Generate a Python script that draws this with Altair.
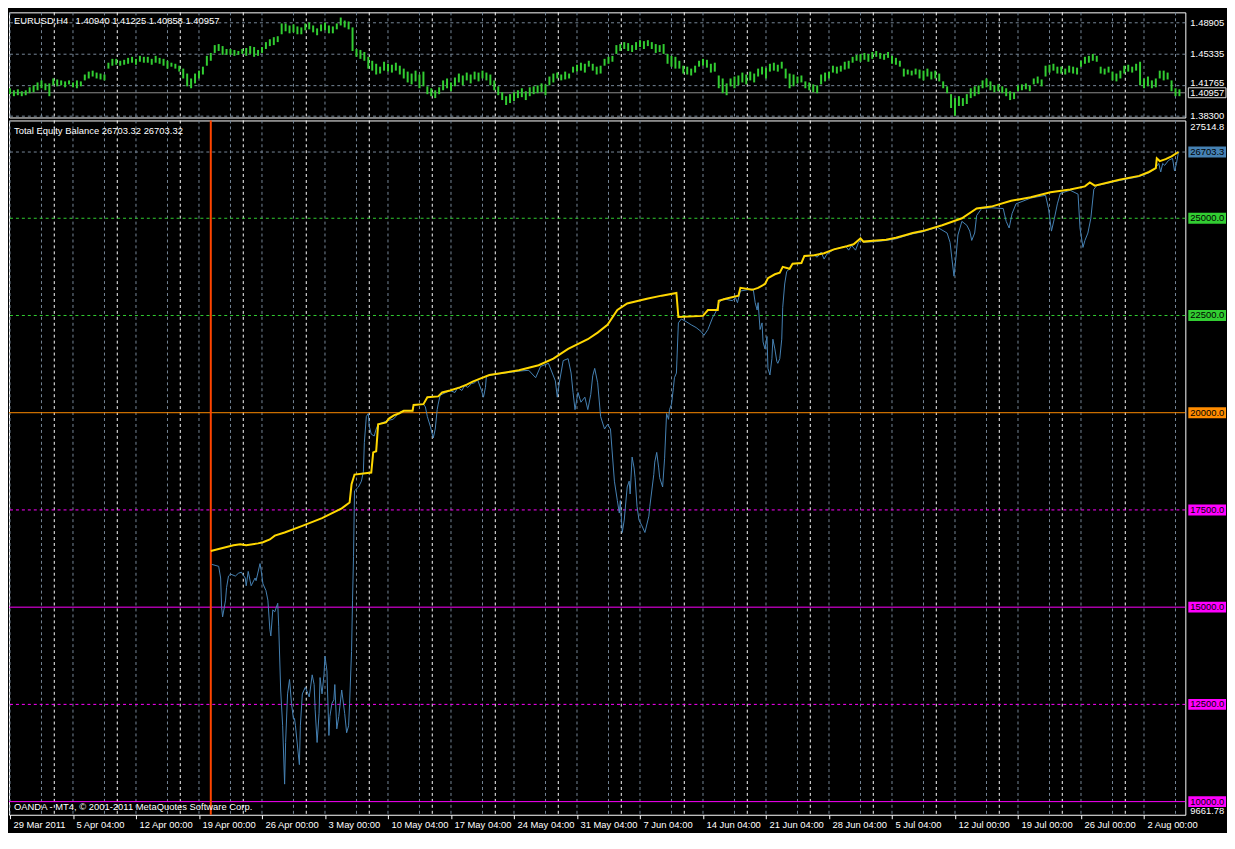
import json
import altair as alt
import pandas as pd

FONT = "Liberation Sans"
W = 1186      # plot width
H1 = 106      # price panel height
H2 = 700      # equity panel height

# ---------------- x axis (H4 bar numbers) ----------------
tick_bars = [0, 32, 64, 96, 128, 160, 192, 224, 256, 288, 320, 352, 384, 416, 448, 480, 512, 544, 576]
tick_labels = ["29 Mar 2011", "5 Apr 04:00", "12 Apr 00:00", "19 Apr 00:00", "26 Apr 00:00",
               "3 May 00:00", "10 May 04:00", "17 May 04:00", "24 May 04:00", "31 May 04:00",
               "7 Jun 04:00", "14 Jun 04:00", "21 Jun 04:00", "28 Jun 04:00", "5 Jul 04:00",
               "12 Jul 00:00", "19 Jul 00:00", "26 Jul 00:00", "2 Aug 00:00"]
grid_bars = list(range(0, 597, 16))
separator_bars = [22.5 + 32 * k for k in range(18)]

# ---------------- EURUSD H4 (every second bar) ----------------
eurusd_high = [
    1.4147, 1.4124, 1.4135, 1.4113, 1.4124, 1.4158, 1.4180, 1.4213, 1.4236, 1.4202,
    1.4202, 1.4258, 1.4247, 1.4236, 1.4225, 1.4236, 1.4213, 1.4236, 1.4225,
    1.4303, 1.4336, 1.4347, 1.4325, 1.4314, 1.4303,
    1.4437, 1.4481, 1.4481, 1.4459, 1.4470, 1.4492, 1.4504, 1.4481, 1.4515, 1.4504,
    1.4504, 1.4481, 1.4515, 1.4492, 1.4481, 1.4459, 1.4437, 1.4425,
    1.4403, 1.4370, 1.4314, 1.4258, 1.4314, 1.4347, 1.4392, 1.4515, 1.4548,
    1.4637, 1.4649, 1.4626, 1.4593, 1.4593, 1.4582, 1.4570, 1.4593, 1.4604,
    1.4626, 1.4615, 1.4582, 1.4615, 1.4671, 1.4704, 1.4727, 1.4738, 1.4883,
    1.4883, 1.4860, 1.4872, 1.4849, 1.4838, 1.4883, 1.4894, 1.4860, 1.4827, 1.4872,
    1.4894, 1.4860, 1.4849, 1.4883, 1.4950, 1.4916, 1.4905, 1.4838,
    1.4593, 1.4582, 1.4559,
    1.4504, 1.4459, 1.4425, 1.4392, 1.4448, 1.4425, 1.4414, 1.4437, 1.4403,
    1.4370, 1.4336, 1.4314, 1.4347, 1.4303, 1.4336,
    1.4169, 1.4147, 1.4124, 1.4158, 1.4236, 1.4258, 1.4213, 1.4269,
    1.4314, 1.4292, 1.4325, 1.4303, 1.4336, 1.4325, 1.4347, 1.4325,
    1.4303, 1.4236, 1.4169, 1.4102, 1.4057, 1.4080, 1.4102,
    1.4124, 1.4147, 1.4113, 1.4158, 1.4169, 1.4180, 1.4202, 1.4191,
    1.4280, 1.4314, 1.4325, 1.4303, 1.4336, 1.4314,
    1.4392, 1.4414, 1.4437, 1.4425, 1.4459, 1.4425, 1.4392, 1.4403,
    1.4481, 1.4504, 1.4515, 1.4637, 1.4649,
    1.4671, 1.4660, 1.4637, 1.4671, 1.4693, 1.4682, 1.4693, 1.4671,
    1.4649, 1.4637, 1.4649, 1.4537, 1.4515, 1.4504, 1.4459,
    1.4403, 1.4392, 1.4370, 1.4403, 1.4459, 1.4481, 1.4470, 1.4425, 1.4437,
    1.4292, 1.4258, 1.4202, 1.4258, 1.4280, 1.4292,
    1.4325, 1.4303, 1.4336, 1.4314, 1.4370, 1.4392, 1.4381,
    1.4425, 1.4437, 1.4414, 1.4448, 1.4370, 1.4314, 1.4303, 1.4280, 1.4292,
    1.4225, 1.4213, 1.4191, 1.4180, 1.4303, 1.4325, 1.4336,
    1.4403, 1.4392, 1.4403, 1.4448, 1.4459,
    1.4504, 1.4526, 1.4537, 1.4548, 1.4537, 1.4559,
    1.4570, 1.4548, 1.4537, 1.4559, 1.4515, 1.4492, 1.4459,
    1.4370, 1.4359, 1.4347, 1.4370, 1.4359, 1.4347, 1.4370,
    1.4336, 1.4347, 1.4314, 1.4225, 1.4169,
    1.4080, 1.4035, 1.4057, 1.4035, 1.4080,
    1.4147, 1.4169, 1.4180, 1.4236, 1.4258, 1.4225,
    1.4180, 1.4191, 1.4169, 1.4147, 1.4113, 1.4102,
    1.4180, 1.4191, 1.4202, 1.4180, 1.4258, 1.4280, 1.4247,
    1.4403, 1.4414, 1.4425, 1.4392, 1.4392, 1.4370, 1.4403, 1.4392, 1.4381,
    1.4459, 1.4504, 1.4515, 1.4537, 1.4515, 1.4392, 1.4370, 1.4392,
    1.4336, 1.4314, 1.4347, 1.4403, 1.4414, 1.4392, 1.4425, 1.4448,
    1.4258, 1.4280, 1.4236, 1.4258, 1.4347, 1.4347, 1.4325,
    1.4236, 1.4147, 1.4135]
eurusd_low = [
    1.4080, 1.4057, 1.4068, 1.4057, 1.4068, 1.4091, 1.4102, 1.4124, 1.4147, 1.4124,
    1.4057, 1.4180, 1.4169, 1.4180, 1.4158, 1.4191, 1.4158, 1.4147, 1.4169,
    1.4236, 1.4258, 1.4280, 1.4258, 1.4247, 1.4236,
    1.4370, 1.4403, 1.4414, 1.4403, 1.4414, 1.4425, 1.4437, 1.4414, 1.4448, 1.4437,
    1.4437, 1.4414, 1.4437, 1.4425, 1.4403, 1.4370, 1.4392, 1.4370,
    1.4336, 1.4258, 1.4169, 1.4147, 1.4202, 1.4258, 1.4303, 1.4403, 1.4459,
    1.4548, 1.4570, 1.4526, 1.4526, 1.4526, 1.4515, 1.4526, 1.4537, 1.4515,
    1.4537, 1.4504, 1.4515, 1.4548, 1.4593, 1.4626, 1.4637, 1.4671, 1.4760,
    1.4794, 1.4771, 1.4782, 1.4760, 1.4760, 1.4805, 1.4816, 1.4782, 1.4749, 1.4794,
    1.4805, 1.4771, 1.4771, 1.4816, 1.4860, 1.4838, 1.4816, 1.4570,
    1.4504, 1.4481, 1.4459,
    1.4370, 1.4347, 1.4303, 1.4314, 1.4347, 1.4336, 1.4325, 1.4347, 1.4303,
    1.4258, 1.4213, 1.4191, 1.4225, 1.4147, 1.4169,
    1.4080, 1.4057, 1.4035, 1.4080, 1.4124, 1.4147, 1.4113, 1.4169,
    1.4213, 1.4180, 1.4236, 1.4202, 1.4247, 1.4225, 1.4258, 1.4236,
    1.4180, 1.4124, 1.4068, 1.4013, 1.3957, 1.3979, 1.4002,
    1.4035, 1.4046, 1.4013, 1.4057, 1.4080, 1.4091, 1.4102, 1.4068,
    1.4180, 1.4213, 1.4258, 1.4236, 1.4247, 1.4258,
    1.4325, 1.4336, 1.4347, 1.4325, 1.4392, 1.4347, 1.4303, 1.4314,
    1.4403, 1.4425, 1.4448, 1.4537, 1.4570,
    1.4593, 1.4570, 1.4559, 1.4582, 1.4615, 1.4593, 1.4626, 1.4593,
    1.4548, 1.4559, 1.4537, 1.4425, 1.4392, 1.4370, 1.4370,
    1.4314, 1.4303, 1.4292, 1.4325, 1.4392, 1.4403, 1.4381, 1.4325, 1.4336,
    1.4147, 1.4091, 1.4068, 1.4169, 1.4147, 1.4180,
    1.4213, 1.4191, 1.4236, 1.4213, 1.4280, 1.4303, 1.4258,
    1.4336, 1.4347, 1.4336, 1.4370, 1.4258, 1.4147, 1.4169, 1.4202, 1.4213,
    1.4147, 1.4124, 1.4102, 1.4091, 1.4191, 1.4225, 1.4258,
    1.4325, 1.4314, 1.4336, 1.4359, 1.4370,
    1.4437, 1.4459, 1.4448, 1.4470, 1.4448, 1.4481,
    1.4504, 1.4481, 1.4470, 1.4492, 1.4425, 1.4414, 1.4392,
    1.4280, 1.4303, 1.4292, 1.4303, 1.4258, 1.4236, 1.4280,
    1.4247, 1.4258, 1.4225, 1.4147, 1.4091,
    1.3923, 1.3834, 1.3946, 1.3946, 1.3968,
    1.4035, 1.4057, 1.4080, 1.4147, 1.4158, 1.4124,
    1.4102, 1.4113, 1.4091, 1.4057, 1.4013, 1.4024,
    1.4113, 1.4124, 1.4135, 1.4113, 1.4191, 1.4202, 1.4169,
    1.4280, 1.4325, 1.4347, 1.4314, 1.4314, 1.4303, 1.4325, 1.4314, 1.4303,
    1.4392, 1.4425, 1.4437, 1.4459, 1.4448, 1.4314, 1.4303, 1.4325,
    1.4236, 1.4225, 1.4258, 1.4314, 1.4336, 1.4325, 1.4347, 1.4180,
    1.4147, 1.4169, 1.4147, 1.4158, 1.4258, 1.4236, 1.4247,
    1.4113, 1.4057, 1.4057]

top_levels = [1.48905, 1.45335, 1.41765, 1.38300]
top_level_text = ["1.48905", "1.45335", "1.41765", "1.38300"]
bid_price = [1.40957]
bid_text = ["1.40957"]
top_title = "EURUSD,H4\u2002 1.40940 1.41225 1.40858 1.40957"

# ---------------- Total Equity Balance ----------------
balance_bar = [102, 113.5, 117, 120, 126, 128.5, 132, 134.5, 139.5, 148.5,
               158.5, 168.5, 172.5, 173.5, 175, 183.5, 184.5, 186, 187, 191,
               192.5, 195, 197.5, 200, 204.5, 205, 210, 212, 217.5, 219.5,
               223.5, 228.5, 232, 235, 237.5, 243.5, 258.5, 268.5, 276, 283.5,
               293.5, 298.5, 303.5, 308.5, 313.5, 323.5, 331, 338.5, 339.5, 352,
               354.5, 359.5, 360, 363.5, 370, 371, 377, 380, 383.5, 385,
               388.5, 391, 392.5, 396, 397.5, 402, 403.5, 408.5, 413.5, 418.5,
               425, 428.5, 432, 433.5, 440, 445, 450, 455, 458.5, 463.5,
               473.5, 483.5, 491, 498.5, 508.5, 518.5, 528.5, 538.5, 546, 548.5,
               551, 563.5, 573.5, 578.5, 582, 582.5, 584, 587, 590, 593.5]
balance_val = [16445, 16590, 16620, 16590, 16640, 16670, 16740, 16840, 16920, 17090,
               17290, 17540, 17690, 18160, 18410, 18460, 18980, 19010, 19700, 19750,
               19850, 19930, 19980, 20050, 20050, 20200, 20220, 20400, 20420, 20520,
               20570, 20650, 20720, 20800, 20850, 20970, 21090, 21220, 21390, 21640,
               21890, 22060, 22260, 22640, 22810, 22930, 23010, 23080, 22460, 22490,
               22640, 22640, 22880, 22930, 23010, 23210, 23160, 23210, 23310, 23460,
               23560, 23600, 23750, 23700, 23830, 23850, 24030, 24050, 24100, 24200,
               24280, 24330, 24480, 24400, 24430, 24450, 24500, 24570, 24620, 24670,
               24820, 25000, 25250, 25300, 25450, 25540, 25670, 25740, 25820, 25920,
               25840, 25990, 26090, 26190, 26290, 26540, 26470, 26520, 26590, 26703.32]

equity_bar = [102.5, 106, 107, 107.5, 108, 109.5, 110, 111, 112, 114.5,
              116, 117.5, 119.5, 120, 121, 122.5, 124.5, 125, 127, 127.5,
              128.5, 130, 131, 132, 132.5, 133.5, 134.5, 136, 136.5, 137.5,
              138.5, 139.5, 140, 141, 142, 143, 144, 144.5, 145, 147,
              147.5, 148.5, 150, 151, 152, 152.5, 153.5, 154.5, 155, 156,
              157, 157.5, 158.5, 159.5, 160, 161, 162, 162.5, 163.5, 164.5,
              165, 166, 167, 168.5, 170, 171, 172, 172.5, 173.5, 174,
              174.5, 175, 177, 178.5, 179.5, 180, 181, 182, 182.5, 183.5,
              185, 186, 187, 188.5, 192, 194.5, 196, 197.5, 200, 204.5,
              205, 210, 211, 212, 213.5, 215, 216, 217, 217.5, 218.5,
              223.5, 226, 227.5, 229.5, 231, 232.5, 234.5, 236, 237.5, 239.5,
              240.5, 241.5, 242, 248.5, 258.5, 263.5, 267, 269.5, 273.5, 277,
              278, 279, 281, 283.5, 285, 286, 287, 288.5, 290, 292,
              293.5, 295, 296, 297, 298.5, 300, 302, 303.5, 305, 307,
              308.5, 309.5, 310, 311, 312, 313.5, 314.5, 315, 316, 317,
              317.5, 318.5, 319.5, 321, 322.5, 324.5, 325, 327, 327.5, 328.5,
              329.5, 330, 331.5, 332.5, 333.5, 334.5, 335, 336, 337, 337.5,
              338.5, 339.5, 341, 343.5, 346, 348.5, 351, 352.5, 354.5, 357,
              358.5, 360, 362.5, 367, 368.5, 369.5, 371, 374.5, 377.5, 378.5,
              379.5, 380, 381, 382, 382.5, 383.5, 384.5, 385, 386, 387,
              387.5, 388.5, 389.5, 390, 391, 392, 392.5, 393.5, 394.5, 396,
              397.5, 402, 403.5, 408.5, 410, 412, 413.5, 415, 418.5, 424.5,
              426, 427.5, 429.5, 431, 432.5, 433.5, 440, 445, 450, 455,
              458.5, 463.5, 471, 476, 477.5, 478.5, 479.5, 480.5, 481.5, 483.5,
              486, 487.5, 488.5, 490, 491, 493.5, 498.5, 504.5, 506, 507.5,
              509, 511, 518.5, 526, 527.5, 529, 530.5, 532, 533.5, 538.5,
              542.5, 543.5, 545, 546, 547.5, 549, 550.5, 552, 563.5, 573.5,
              578.5, 581.5, 583.5, 584.5, 585.5, 586.5, 588.5, 590.5, 591.5, 592.5,
              593.5]
equity_val = [16100, 16050, 15750, 15000, 14750, 15180, 15500, 15800, 15850, 15800,
              15870, 15900, 15750, 15550, 15920, 15550, 15750, 15680, 16120, 15970,
              15600, 15430, 15180, 14430, 14260, 14930, 14880, 15100, 14510, 12870,
              11950, 10450, 11520, 12770, 13140, 12520, 12120, 12140, 11950, 10950,
              11950, 12770, 12940, 12820, 12690, 12870, 13260, 13010, 12370, 11520,
              12270, 13190, 12770, 13260, 13740, 13360, 11700, 12190, 12520, 12620,
              13010, 11870, 12190, 12870, 12270, 11770, 11950, 12520, 13860, 15180,
              16300, 17990, 18090, 18240, 18480, 19230, 19900, 19980, 19650, 19450,
              19400, 19580, 19700, 19730, 19800, 19830, 19900, 20000, 20050, 20050,
              20200, 20220, 20150, 19900, 19650, 19350, 19580, 20080, 20220, 20450,
              20570, 20520, 20650, 20570, 20700, 20650, 20750, 20770, 20850, 20570,
              20400, 20650, 20950, 21000, 21070, 21090, 20900, 21190, 21270, 20820,
              20400, 20770, 21340, 21390, 21020, 20520, 20080, 20520, 20270, 20400,
              20080, 20470, 20950, 21140, 20770, 19900, 19580, 19700, 19580, 18240,
              17740, 17420, 17740, 16920, 17240, 18090, 18240, 17910, 18860, 18580,
              18330, 17590, 17240, 17090, 16920, 17340, 17590, 18410, 18730, 18980,
              18580, 18330, 18090, 18830, 19980, 19830, 20080, 20220, 20650, 20900,
              21020, 22310, 22410, 22340, 22260, 22190, 22090, 21990, 22140, 22460,
              22590, 22830, 22930, 22880, 22960, 22830, 23130, 23160, 23180, 22830,
              22640, 22830, 22140, 22310, 21820, 21640, 21960, 21140, 20970, 21390,
              21890, 21640, 21320, 21270, 21390, 21890, 22710, 23310, 23630, 23700,
              23830, 23850, 24030, 24050, 24000, 24130, 23950, 24080, 24200, 24280,
              24180, 24300, 24180, 24380, 24450, 24380, 24400, 24430, 24470, 24550,
              24600, 24650, 24770, 24620, 24380, 23930, 23510, 24000, 24570, 24920,
              24820, 24670, 24430, 24620, 25070, 25250, 25270, 25250, 24920, 24750,
              25120, 25370, 25520, 25590, 25250, 24670, 25000, 25370, 25640, 25720,
              25620, 24750, 24250, 24430, 24620, 25000, 25740, 25840, 25970, 26070,
              26170, 26270, 26410, 26190, 26410, 26360, 26490, 26540, 26220, 26410,
              26703.32]

panel_max = 27514.82
panel_min = 9661.78
equity_grid = [26703.32]
dashed_levels = [25000, 22500, 17500, 12500]
solid_levels = [20000, 15000, 10000]
box_values = [26703.32, 25000, 22500, 20000, 17500, 15000, 12500, 10000]
box_texts = ["26703.32", "25000.00", "22500.00", "20000.00", "17500.00", "15000.00", "12500.00", "10000.00"]
box_colors = ["#4682B4", "#32CD32", "#32CD32", "#FF8C00", "#FF00FF", "#FF00FF", "#FF00FF", "#FF00FF"]
sub_title = "Total Equity Balance 26703.32 26703.32"
footer = "OANDA - MT4, \u00a9 2001-2011 MetaQuotes Software Corp."

# ---------------- frames ----------------
n = min(len(eurusd_high), len(eurusd_low))
price_df = pd.DataFrame({"bar": [2 * i for i in range(n)],
                         "high": eurusd_high[:n], "low": eurusd_low[:n]})
grid_df = pd.DataFrame({"bar": grid_bars})
sep_df = pd.DataFrame({"bar": separator_bars})
top_lv_df = pd.DataFrame({"price": top_levels, "label": top_level_text})
bid_df = pd.DataFrame({"price": bid_price, "label": bid_text})
bal_df = pd.DataFrame({"bar": balance_bar, "value": balance_val})
eq_df = pd.DataFrame({"bar": equity_bar, "value": equity_val})
box_df = pd.DataFrame({"value": box_values, "label": box_texts})
lvl_name = dict(zip(box_values, box_texts))
dash_df = pd.DataFrame({"value": dashed_levels, "label": [lvl_name[v] for v in dashed_levels]})
solid_df = pd.DataFrame({"value": solid_levels, "label": [lvl_name[v] for v in solid_levels]})
start_df = pd.DataFrame({"bar": [balance_bar[0]]})

xs = alt.Scale(domain=[-0.5, 597], nice=False, zero=False)
ys1 = alt.Scale(domain=[1.3815, 1.5009], nice=False, zero=False)
ys2 = alt.Scale(domain=[panel_min, panel_max], nice=False, zero=False)
lvl_color = alt.Scale(domain=box_texts, range=box_colors)

GRID = "#778899"
DASH = [3, 3]
LBL_X = W + 5
LBL_LIMIT = 36
BOX_CX = W + 3 + 19
CUT = "\u200b"   # zero-width: text is cut at the window edge, no ellipsis
NEAR_BID = 0.01

label_expr = "{}[indexof({}, datum.value)]".format(json.dumps(tick_labels), json.dumps(tick_bars))
x_axis = alt.Axis(values=tick_bars, labelExpr=label_expr, labelAlign="left", labelBaseline="top",
                  labelOffset=3, labelPadding=1, tickSize=4, tickColor="#ffffff", tickWidth=1,
                  domain=False, grid=False, labelColor="#ffffff", labelFont=FONT, labelFontSize=9.5,
                  labelOverlap=False, labelFlush=False, labelBound=False, title=None)


def txt(**kw):
    base = dict(font=FONT, fontSize=9.5, align="left", baseline="middle")
    base.update(kw)
    return base


# ---------------- top panel ----------------
xt = alt.X("bar:Q", scale=xs, axis=None)
yt = alt.Y("price:Q", scale=ys1, axis=None)
near_bid = "abs(datum.price - {}) < {}".format(bid_price[0], NEAR_BID)
t_grid = alt.Chart(grid_df).mark_rule(color=GRID, strokeDash=DASH, strokeWidth=1).encode(x=xt)
t_sep = alt.Chart(sep_df).mark_rule(color="#ffffff", strokeDash=DASH, strokeWidth=1).encode(x=xt)
t_hgrid = alt.Chart(top_lv_df).mark_rule(color=GRID, strokeDash=DASH, strokeWidth=1).encode(y=yt)
t_bid = alt.Chart(bid_df).mark_rule(color="#8c8c8c", strokeWidth=1).encode(y=yt)
t_bars = alt.Chart(price_df).mark_rule(color="#32CD32", strokeWidth=2).encode(
    x=xt, y=alt.Y("low:Q", scale=ys1, axis=None), y2="high:Q")
t_title = alt.Chart(pd.DataFrame({"t": [top_title]})).mark_text(**txt(color="#ffffff")).encode(
    x=alt.value(5), y=alt.value(8.5), text="t:N")
t_lbl = alt.Chart(top_lv_df).transform_filter("!(" + near_bid + ")").mark_text(
    **txt(color="#ffffff", limit=LBL_LIMIT, ellipsis=CUT)).encode(
    x=alt.value(LBL_X), y=yt, text="label:N")
t_lbl_up = alt.Chart(top_lv_df).transform_filter(near_bid).mark_text(
    **txt(color="#ffffff", dy=-3, limit=LBL_LIMIT, ellipsis=CUT)).encode(
    x=alt.value(LBL_X), y=yt, text="label:N")
t_bidbox = alt.Chart(bid_df).mark_tick(orient="horizontal", size=38, thickness=10, color="#000000",
                                       stroke="#dddddd", strokeWidth=1, opacity=1).encode(
    x=alt.value(BOX_CX), y=yt)
t_bidlbl = alt.Chart(bid_df).mark_text(**txt(color="#ffffff", limit=LBL_LIMIT, ellipsis=CUT)).encode(
    x=alt.value(LBL_X), y=yt, text="label:N")

top = alt.layer(t_grid, t_sep, t_hgrid, t_bid, t_bars, t_title, t_lbl, t_lbl_up,
                t_bidbox, t_bidlbl).properties(width=W, height=H1)

# ---------------- equity panel ----------------
xb = alt.X("bar:Q", scale=xs, axis=x_axis)
yb = alt.Y("value:Q", scale=ys2, axis=None)
b_grid = alt.Chart(grid_df).mark_rule(color=GRID, strokeDash=DASH, strokeWidth=1).encode(x=xb)
b_sep = alt.Chart(sep_df).mark_rule(color="#ffffff", strokeDash=DASH, strokeWidth=1).encode(x=xb)
b_hgrid = alt.Chart(pd.DataFrame({"value": equity_grid})).mark_rule(
    color=GRID, strokeDash=DASH, strokeWidth=1).encode(y=yb)
b_dash = alt.Chart(dash_df).mark_rule(strokeDash=DASH, strokeWidth=1).encode(
    y=yb, color=alt.Color("label:N", scale=lvl_color, legend=None))
b_solid = alt.Chart(solid_df).mark_rule(strokeWidth=1).encode(
    y=yb, color=alt.Color("label:N", scale=lvl_color, legend=None))
b_start = alt.Chart(start_df).mark_rule(color="#FF4500", strokeWidth=2).encode(x=xb)
b_eq = alt.Chart(eq_df).mark_line(color="#4682B4", strokeWidth=1).encode(x=xb, y=yb)
b_bal = alt.Chart(bal_df).mark_line(color="#FFD700", strokeWidth=2).encode(x=xb, y=yb)
b_title = alt.Chart(pd.DataFrame({"t": [sub_title]})).mark_text(**txt(color="#ffffff")).encode(
    x=alt.value(5), y=alt.value(10.5), text="t:N")
b_footer = alt.Chart(pd.DataFrame({"t": [footer]})).mark_text(**txt(color="#ffffff")).encode(
    x=alt.value(5), y=alt.value(H2 - 8), text="t:N")
b_boxes = alt.Chart(box_df).mark_tick(orient="horizontal", size=38, thickness=11, opacity=1).encode(
    x=alt.value(BOX_CX), y=yb, color=alt.Color("label:N", scale=lvl_color, legend=None))
b_boxlbl = alt.Chart(box_df).mark_text(**txt(color="#000000", limit=LBL_LIMIT, ellipsis=CUT)).encode(
    x=alt.value(LBL_X), y=yb, text="label:N")
b_max = alt.Chart(pd.DataFrame({"value": [panel_max], "label": ["27514.82"]})).mark_text(
    **txt(color="#ffffff", baseline="top", dy=2, limit=LBL_LIMIT, ellipsis=CUT)).encode(
    x=alt.value(LBL_X), y=yb, text="label:N")
b_min = alt.Chart(pd.DataFrame({"value": [panel_min], "label": ["9661.78"]})).mark_text(
    **txt(color="#ffffff", baseline="bottom", dy=1, limit=LBL_LIMIT, ellipsis=CUT)).encode(
    x=alt.value(LBL_X), y=yb, text="label:N")

bottom = alt.layer(b_grid, b_sep, b_hgrid, b_dash, b_solid, b_start, b_eq, b_bal,
                   b_title, b_footer, b_boxes, b_boxlbl, b_max, b_min).properties(width=W, height=H2)

chart = alt.vconcat(top, bottom, spacing=3, bounds="flush").properties(
    padding=0, background="#000000").configure_view(stroke="#ffffff", strokeWidth=1)

chart.save("out.html", embed_options={"renderer": "svg", "actions": False})
